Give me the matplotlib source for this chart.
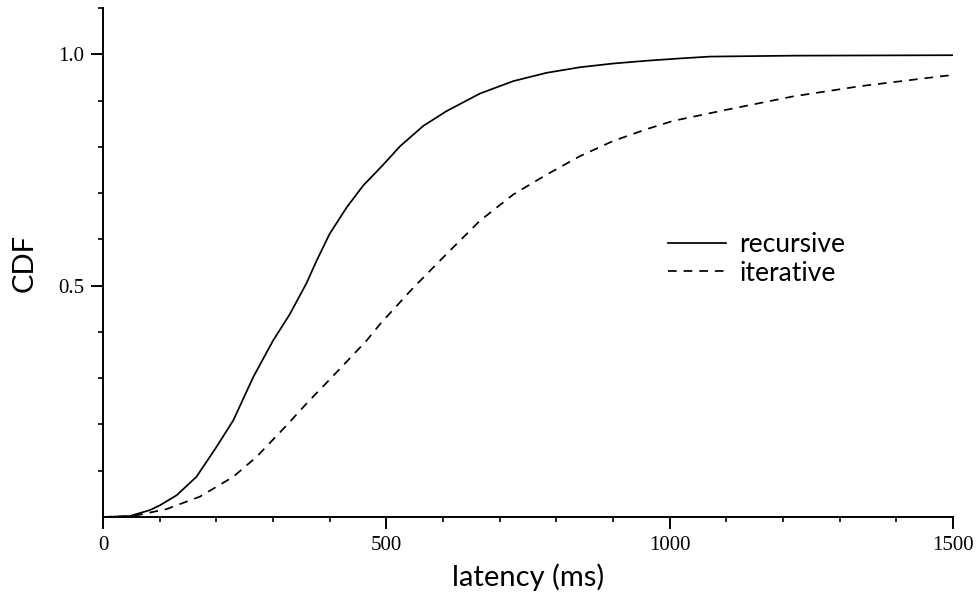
# CDF de latencia: recursive vs iterative
import numpy as np
import matplotlib.pyplot as plt

# Datos (ms, CDF)
rec_ms = [0, 47, 83, 100, 130, 165, 200, 230, 265, 300, 330, 359, 377, 400,
          430, 459, 495, 524, 565, 606, 665, 724, 783, 842, 900, 959, 1018,
          1071, 1218, 1500]
rec_cdf = [0.0, 0.002, 0.015, 0.025, 0.047, 0.087, 0.151, 0.209, 0.302, 0.381,
           0.439, 0.505, 0.554, 0.612, 0.669, 0.716, 0.762, 0.801, 0.845, 0.877,
           0.915, 0.942, 0.960, 0.972, 0.980, 0.986, 0.991, 0.995, 0.997, 0.998]

it_ms = [0, 53, 112, 171, 230, 271, 324, 359, 407, 465, 489, 524, 548, 606,
         665, 724, 783, 842, 900, 959, 1006, 1100, 1218, 1336, 1483, 1500]
it_cdf = [0.0, 0.002, 0.017, 0.044, 0.087, 0.130, 0.198, 0.245, 0.306, 0.381,
          0.417, 0.464, 0.496, 0.568, 0.640, 0.697, 0.740, 0.780, 0.8125, 0.838,
          0.856, 0.880, 0.909, 0.931, 0.953, 0.955]

series_labels = ["recursive", "iterative"]
x_ticks = [0, 500, 1000, 1500]
y_ticks = [0.5, 1.0]

sans = ["Lato", "DejaVu Sans"]
serif = "Liberation Serif"

fig = plt.figure(figsize=(9.77, 5.97), dpi=100)
ax = fig.add_axes([103/977, 1-517/597, 850/977, 509/597])

ax.plot(rec_ms, rec_cdf, color="black", lw=1.25, label=series_labels[0])
ax.plot(it_ms, it_cdf, color="black", lw=1.25, dashes=(5, 4),
        label=series_labels[1])

ax.set_xlim(0, 1500)
ax.set_ylim(0, 1.1)

for s in ["top", "right"]:
    ax.spines[s].set_visible(False)
for s in ["left", "bottom"]:
    ax.spines[s].set_linewidth(1.4)

ax.set_xticks(x_ticks)
ax.set_xticklabels([str(v) for v in x_ticks])
ax.set_xticks(np.arange(0, 1501, 100), minor=True)
ax.set_yticks(y_ticks)
ax.set_yticklabels(["0.5", "1.0"])
ax.set_yticks(np.arange(0.1, 1.11, 0.1), minor=True)

ax.tick_params(which="major", direction="out", length=8.5, width=1.4, pad=5)
ax.tick_params(which="minor", direction="out", length=3.5, width=1.2)
for lab in ax.get_xticklabels() + ax.get_yticklabels():
    lab.set_family(serif)
    lab.set_fontsize(15)

ax.set_xlabel("latency (ms)", family=sans, fontsize=21, labelpad=6)
ax.set_ylabel("CDF", family=sans, fontsize=21, labelpad=15)

leg = ax.legend(loc="upper left", bbox_to_anchor=(0.649, 0.586), frameon=False,
                prop={"family": sans, "size": 19}, handlelength=2.2,
                handletextpad=0.5, labelspacing=0.14, borderpad=0)

fig.savefig("out.png", dpi=100)
